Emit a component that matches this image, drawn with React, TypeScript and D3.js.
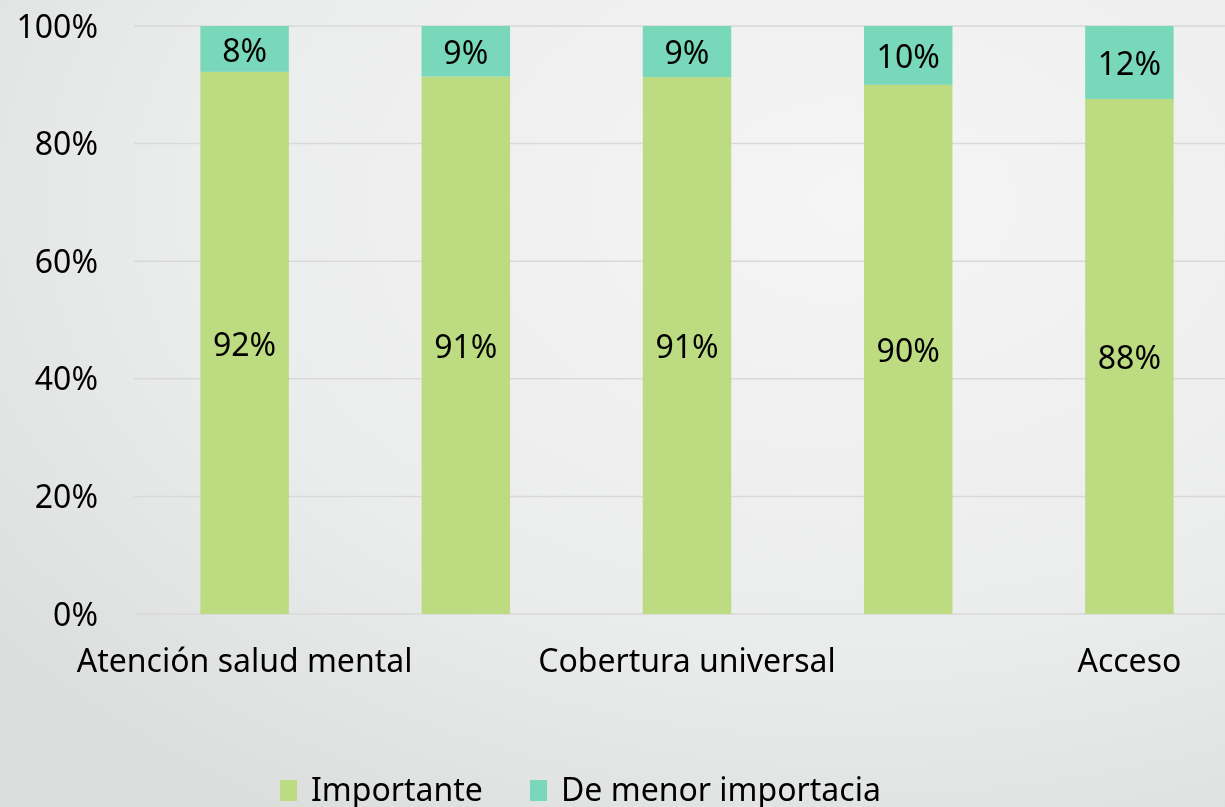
import React, { useEffect, useRef } from "react"
import * as d3 from "d3"

// categories (only every other one is labelled on the axis in the original)
const categories = ["Atención salud mental", "", "Cobertura universal", "", "Acceso"]
const importante = [0.922, 0.914, 0.913, 0.9, 0.876]
const menorImportancia = [0.078, 0.086, 0.087, 0.1, 0.124]
const seriesNames = ["Importante", "De menor importacia"]
const seriesColors = ["#bddb81", "#79d7ba"]
const yTicks = [0, 0.2, 0.4, 0.6, 0.8, 1]

const W = 1225
const H = 807

const App = () => {
	const ref = useRef<SVGSVGElement>(null)

	useEffect(() => {
		const marginTop = 26
		const marginBottom = 193
		const marginLeft = 134
		const plotRight = 1240
		const font = "'Noto Sans', 'Open Sans', sans-serif"
		const fontSize = "32px"

		const svg = d3.select(ref.current)
		svg.selectAll("*").remove()

		// background gradient
		const defs = svg.append("defs")
		const grad = defs
			.append("radialGradient")
			.attr("id", "bg")
			.attr("cx", "0.7")
			.attr("cy", "0.25")
			.attr("r", "0.9")
		grad.append("stop").attr("offset", "0%").attr("stop-color", "#f5f5f5")
		grad.append("stop").attr("offset", "60%").attr("stop-color", "#ebecec")
		grad.append("stop").attr("offset", "100%").attr("stop-color", "#dcdddd")
		svg.append("rect").attr("width", W).attr("height", H).attr("fill", "url(#bg)")

		const x = d3
			.scaleBand<number>()
			.domain(categories.map((_, i) => i))
			.range([marginLeft, plotRight])
			.paddingInner(0.6)
			.paddingOuter(0.3)

		const y = d3
			.scaleLinear()
			.domain([0, 1])
			.range([H - marginBottom, marginTop])

		// gridlines
		svg
			.append("g")
			.selectAll("line")
			.data(yTicks)
			.join("line")
			.attr("x1", marginLeft)
			.attr("x2", plotRight)
			.attr("y1", d => y(d))
			.attr("y2", d => y(d))
			.attr("stroke", "#d9d9d9")
			.attr("stroke-width", 1.5)

		// y tick labels
		svg
			.append("g")
			.selectAll("text")
			.data(yTicks)
			.join("text")
			.attr("x", 98)
			.attr("y", d => y(d))
			.attr("dy", "0.36em")
			.attr("text-anchor", "end")
			.style("font-family", font)
			.style("font-size", fontSize)
			.style("fill", "#000")
			.text(d => d3.format(".0%")(d))

		// stacked bars
		const rows = categories.map((_, i) => ({ i, a: importante[i], b: menorImportancia[i] }))
		const stack = d3.stack<any>().keys(["a", "b"])(rows)

		stack.forEach((layer, k) => {
			const g = svg.append("g")
			g.selectAll("rect")
				.data(layer)
				.join("rect")
				.attr("x", d => x(d.data.i)!)
				.attr("width", x.bandwidth())
				.attr("y", d => y(d[1]))
				.attr("height", d => y(d[0]) - y(d[1]))
				.attr("fill", seriesColors[k])
			g.selectAll("text")
				.data(layer)
				.join("text")
				.attr("x", d => x(d.data.i)! + x.bandwidth() / 2)
				.attr("y", d => (y(d[0]) + y(d[1])) / 2)
				.attr("dy", "0.4em")
				.attr("text-anchor", "middle")
				.style("font-family", font)
				.style("font-size", fontSize)
				.style("fill", "#000")
				.text(d => d3.format(".0%")(d[1] - d[0]))
		})

		// x axis labels
		svg
			.append("g")
			.selectAll("text")
			.data(categories.map((c, i) => ({ c, i })).filter(d => d.c))
			.join("text")
			.attr("x", d => x(d.i)! + x.bandwidth() / 2)
			.attr("y", 672)
			.attr("text-anchor", "middle")
			.style("font-family", font)
			.style("font-size", fontSize)
			.style("fill", "#000")
			.text(d => d.c)

		// legend
		const legendX = [280, 530]
		const legend = svg
			.append("g")
			.selectAll("g")
			.data(seriesNames)
			.join("g")
			.attr("transform", (_, i) => `translate(${legendX[i]}, 780)`)
		legend
			.append("rect")
			.attr("width", 17)
			.attr("height", 21)
			.attr("fill", (_, i) => seriesColors[i])
		legend
			.append("text")
			.attr("x", 31)
			.attr("y", 21)
			.style("font-family", font)
			.style("font-size", fontSize)
			.style("fill", "#000")
			.text(d => d)
	}, [])

	return (
		<div style={{ position: "fixed", left: 0, top: 0, width: W, height: H, overflow: "hidden" }}>
			<svg ref={ref} width={W} height={H} style={{ display: "block" }}></svg>
		</div>
	)
}

export default App
